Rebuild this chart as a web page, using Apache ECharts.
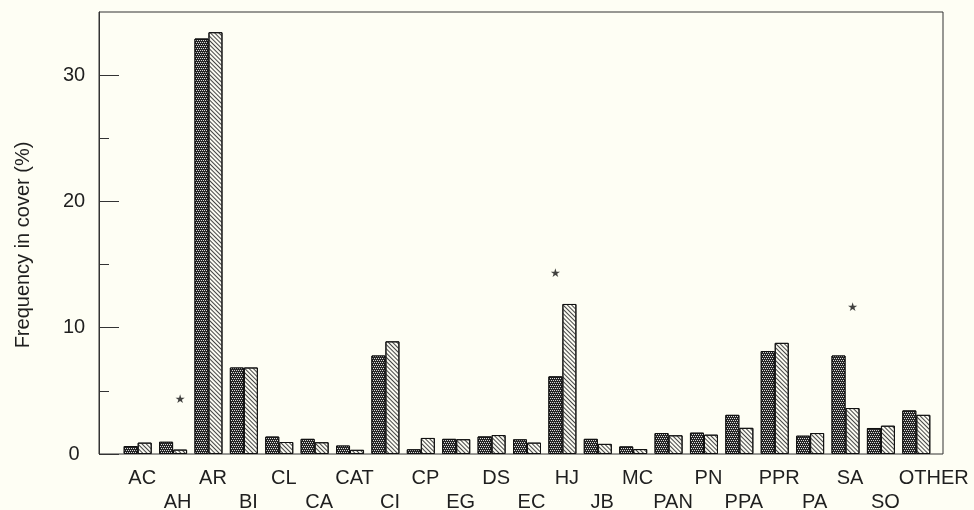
<!DOCTYPE html>
<html><head><meta charset="utf-8">
<script src="https://cdn.jsdelivr.net/npm/echarts@6/dist/echarts.min.js"></script>
<style>html,body{margin:0;padding:0;background:#fefef4}#c{width:974px;height:510px}</style>
</head><body><div id="c"></div>
<script>
const categories = ['AC','AH','AR','BI','CL','CA','CAT','CI','CP','EG','DS','EC','HJ','JB','MC','PAN','PN','PPA','PPR','PA','SA','SO','OTHER'];
const darkValues  = [0.63,0.97,32.9,6.85,1.38,1.2,0.67,7.8,0.37,1.2,1.39,1.16,6.15,1.2,0.6,1.66,1.69,3.1,8.15,1.45,7.8,2.06,3.45];
const lightValues = [0.9,0.35,33.4,6.85,0.95,0.93,0.33,8.92,1.27,1.17,1.5,0.9,11.88,0.8,0.39,1.48,1.53,2.07,8.8,1.66,3.64,2.24,3.1];
const yMajorTicks = [0,10,20,30];
const yMinorTicks = [5,15,25];
const yMax = 35;
const starCategories = ['AH','HJ','SA'];
const starValues = [4.3,14.3,11.6];
const starOverSeries = ['light','dark','light'];

const textColor = '#1f1f1f';
const lineColor = '#333';
const font = 'Liberation Sans, Arial, sans-serif';
const chart = echarts.init(document.getElementById('c'));
const tickAxis = (values, len) => ({
  gridIndex: 0, type: 'value', min: 0, max: yMax, position: 'left',
  axisLine: {show: false},
  axisTick: {show: true, inside: true, length: len, customValues: values, lineStyle: {color: lineColor, width: 1}},
  axisLabel: {show: false}, splitLine: {show: false}
});
const option = {
  backgroundColor: '#fefef4',
  animation: false,
  grid: [
    {left: 99, right: 31, top: 12, bottom: 56, show: true, borderColor: lineColor, borderWidth: 1, backgroundColor: 'transparent', containLabel: false, outerBoundsMode: 'none'},
    {left: 120, right: 40, top: 12, bottom: 56, containLabel: false, outerBoundsMode: 'none'}
  ],
  xAxis: [
    {gridIndex: 0, type: 'value', min: 0, max: 1, show: false},
    {gridIndex: 1, type: 'category', data: categories,
     axisLine: {show: false}, axisTick: {show: false}, splitLine: {show: false},
     axisLabel: {interval: 0, margin: 12, color: textColor, fontFamily: font, fontSize: 20, lineHeight: 24,
       formatter: (v, i) => {
         const s = v === 'OTHER' ? '{o|' + v + '}' : '{n|' + v + '}';
         return i % 2 === 1 ? '\n' + s : s;
       },
       rich: {
         n: {fontSize: 20, lineHeight: 24, color: textColor, fontFamily: font, padding: [0, 0, 0, 9]},
         o: {fontSize: 20, lineHeight: 24, color: textColor, fontFamily: font, padding: [0, 0, 0, 35]}
       }}}
  ],
  yAxis: [
    {gridIndex: 0, type: 'value', min: 0, max: yMax, position: 'left',
     axisLine: {show: true, lineStyle: {color: lineColor, width: 1}},
     axisTick: {show: false},
     axisLabel: {customValues: yMajorTicks, margin: 13, color: textColor, fontFamily: font, fontSize: 20,
       formatter: v => '{a|' + v + '}',
       rich: {a: {width: 24, align: 'center', fontSize: 20, color: textColor, fontFamily: font}}},
     splitLine: {show: false},
     name: 'Frequency in cover (%)', nameLocation: 'middle', nameGap: 66, nameRotate: 90,
     nameTextStyle: {color: textColor, fontFamily: font, fontSize: 20, padding: [0, 24, 0, 0]}},
    tickAxis(yMajorTicks, 20),
    tickAxis(yMinorTicks, 10),
    {gridIndex: 1, type: 'value', min: 0, max: yMax, show: false, splitLine: {show: false}}
  ],
  series: [
    {type: 'bar', name: 'dark', xAxisIndex: 1, yAxisIndex: 3, data: darkValues, barWidth: 14, barGap: '0%',
     itemStyle: {color: '#262626', borderColor: '#111', borderWidth: 1,
       decal: {symbol: 'rect', symbolSize: 1, color: 'rgba(255,255,255,0.85)',
               dashArrayX: [[1, 1], [0, 1, 1, 0]], dashArrayY: [1, 1], rotation: 0}}},
    {type: 'bar', name: 'light', xAxisIndex: 1, yAxisIndex: 3, data: lightValues, barWidth: 14, barGap: '0%',
     itemStyle: {color: '#fbfbf2', borderColor: '#111', borderWidth: 1,
       decal: {symbol: 'rect', symbolSize: 1, color: '#444', dashArrayX: [1, 0], dashArrayY: [1, 2], rotation: Math.PI / 4}}},
    {type: 'scatter', xAxisIndex: 1, yAxisIndex: 3, symbolSize: 0,
     data: starCategories.map((c, i) => ({value: [c, starValues[i]],
       label: {offset: [starOverSeries[i] === 'dark' ? -7 : 7, 0]}})),
     label: {show: true, position: 'inside', formatter: '\u2605', fontSize: 12, color: '#111', fontFamily: 'DejaVu Sans'}}
  ]
};
chart.setOption(option);
</script></body></html>
